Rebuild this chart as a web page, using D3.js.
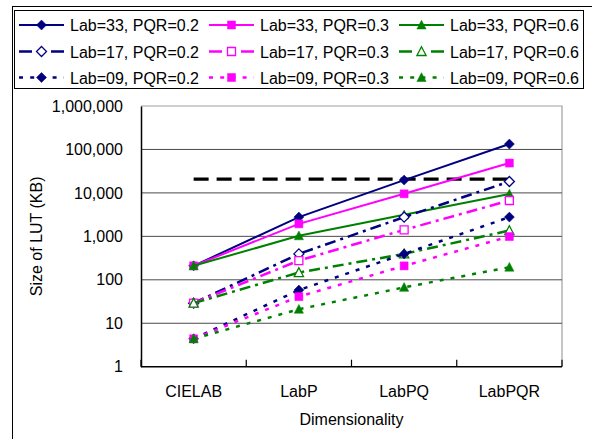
<!DOCTYPE html>
<html>
<head>
<meta charset="utf-8">
<script src="https://cdn.jsdelivr.net/npm/d3@7"></script>
<style>
  body { margin: 0; background: #fff; }
  text { font-family: "Liberation Sans", Arial, sans-serif; fill: #000; }
</style>
</head>
<body>
<svg id="chart" width="592" height="439"></svg>
<script>
// Categories on the x axis
const categories = ["CIELAB", "LabP", "LabPQ", "LabPQR"];

// Size of LUT (KB)
const lab33_pqr02 = [210, 2770, 19700, 133000];
const lab33_pqr03 = [210, 1940, 9530, 48600];
const lab33_pqr06 = [210, 1030, 3130, 9400];
const lab17_pqr02 = [29, 395, 2770, 18300];
const lab17_pqr03 = [29, 277, 1410, 6680];
const lab17_pqr06 = [29, 147, 395, 1360];
const lab09_pqr02 = [4.4, 58, 395, 2770];
const lab09_pqr03 = [4.4, 41, 209, 990];
const lab09_pqr06 = [4.4, 21, 67, 195];

// horizontal limit line (black dashes)
const limitValue = 20800;

const yTicks = [1, 10, 100, 1000, 10000, 100000, 1000000];

const series = [
  { name: "Lab=33, PQR=0.2", values: lab33_pqr02, color: "#000080", style: "solid", marker: "diamond", open: false },
  { name: "Lab=33, PQR=0.3", values: lab33_pqr03, color: "#ff00ff", style: "solid", marker: "square", open: false },
  { name: "Lab=33, PQR=0.6", values: lab33_pqr06, color: "#008000", style: "solid", marker: "triangle", open: false },
  { name: "Lab=17, PQR=0.2", values: lab17_pqr02, color: "#000080", style: "dashdot", marker: "diamond", open: true },
  { name: "Lab=17, PQR=0.3", values: lab17_pqr03, color: "#ff00ff", style: "dashdot", marker: "square", open: true },
  { name: "Lab=17, PQR=0.6", values: lab17_pqr06, color: "#008000", style: "dashdot", marker: "triangle", open: true },
  { name: "Lab=09, PQR=0.2", values: lab09_pqr02, color: "#000080", style: "dot", marker: "diamond", open: false },
  { name: "Lab=09, PQR=0.3", values: lab09_pqr03, color: "#ff00ff", style: "dot", marker: "square", open: false },
  { name: "Lab=09, PQR=0.6", values: lab09_pqr06, color: "#008000", style: "dot", marker: "triangle", open: false },
];

const dashes = { solid: null, dashdot: "11,5,3,5", dot: "4,7" };
const widths = { solid: 2, dashdot: 2.5, dot: 2.5 };

const svg = d3.select("#chart");

// plot area
const plot = { left: 141, right: 562, top: 106, bottom: 366.7 };

const x = d3
  .scalePoint()
  .domain(categories)
  .range([plot.left, plot.right])
  .padding(0.5);

const y = d3
  .scaleLog()
  .domain([1, 1000000])
  .range([plot.bottom, plot.top]);

// marker shapes
function markerPath(type) {
  if (type === "diamond") return "M0,-5L5,0L0,5L-5,0Z";
  if (type === "square") return "M-4,-4H4V4H-4Z";
  return "M0,-4.8L4.6,4L-4.6,4Z";
}

// outer chart frame (runs past the right and bottom edge)
svg
  .append("rect")
  .attr("x", 12.5)
  .attr("y", 6.5)
  .attr("width", 600)
  .attr("height", 450)
  .attr("fill", "none")
  .attr("stroke", "#000")
  .attr("stroke-width", 1);

// plot area frame: top and right are grey
svg
  .append("path")
  .attr("d", `M${plot.left},${plot.top}H${plot.right}V${plot.bottom}`)
  .attr("fill", "none")
  .attr("stroke", "#a0a0a0")
  .attr("stroke-width", 1.2);

// gridlines
svg
  .append("g")
  .selectAll("line")
  .data(yTicks.slice(1, -1))
  .join("line")
  .attr("x1", plot.left)
  .attr("x2", plot.right)
  .attr("y1", (d) => y(d))
  .attr("y2", (d) => y(d))
  .attr("stroke", "#4a4a4a")
  .attr("stroke-width", 1);

// y axis
const yAxis = svg
  .append("g")
  .attr("transform", `translate(${plot.left},0)`)
  .call(d3.axisLeft(y).tickValues(yTicks).tickFormat(d3.format(",")).tickSize(0).tickPadding(18));
yAxis.select(".domain").attr("stroke", "#000").attr("stroke-width", 1.5);
yAxis.selectAll("text").style("font-size", "16px").style("font-family", "'Liberation Sans', Arial, sans-serif");

// x axis: ticks between categories, pointing up into the plot
const step = x.step();
const xTickPos = d3.range(categories.length + 1).map((i) => plot.left + i * step);
svg
  .append("line")
  .attr("x1", plot.left)
  .attr("x2", plot.right)
  .attr("y1", plot.bottom)
  .attr("y2", plot.bottom)
  .attr("stroke", "#000")
  .attr("stroke-width", 1.5);
svg
  .append("g")
  .selectAll("line")
  .data(xTickPos)
  .join("line")
  .attr("x1", (d) => d)
  .attr("x2", (d) => d)
  .attr("y1", plot.bottom)
  .attr("y2", plot.bottom - 7)
  .attr("stroke", "#000")
  .attr("stroke-width", 1.2);

svg
  .append("g")
  .selectAll("text")
  .data(categories)
  .join("text")
  .attr("x", (d) => x(d))
  .attr("y", 397)
  .attr("text-anchor", "middle")
  .style("font-size", "16px")
  .text((d) => d);

// axis titles
svg
  .append("text")
  .attr("x", (plot.left + plot.right) / 2)
  .attr("y", 425)
  .attr("text-anchor", "middle")
  .style("font-size", "16px")
  .text("Dimensionality");

svg
  .append("text")
  .attr("transform", `translate(42,${(plot.top + plot.bottom) / 2}) rotate(-90)`)
  .attr("text-anchor", "middle")
  .style("font-size", "16px")
  .text("Size of LUT (KB)");

// limit line
svg
  .append("line")
  .attr("x1", x(categories[0]))
  .attr("x2", x(categories[categories.length - 1]) + 3)
  .attr("y1", y(limitValue))
  .attr("y2", y(limitValue))
  .attr("stroke", "#000")
  .attr("stroke-width", 3.2)
  .attr("stroke-dasharray", "15,8");

// series lines
const line = d3
  .line()
  .x((d, i) => x(categories[i]))
  .y((d) => y(d));

const seriesG = svg.append("g").selectAll("g").data(series).join("g");

seriesG
  .append("path")
  .attr("d", (d) => line(d.values))
  .attr("fill", "none")
  .attr("stroke", (d) => d.color)
  .attr("stroke-width", (d) => widths[d.style])
  .attr("stroke-dasharray", (d) => dashes[d.style]);

seriesG
  .selectAll("path.mark")
  .data((d) => d.values.map((v, i) => ({ s: d, v, i })))
  .join("path")
  .attr("class", "mark")
  .attr("transform", (d) => `translate(${x(categories[d.i])},${y(d.v)})`)
  .attr("d", (d) => markerPath(d.s.marker))
  .attr("fill", (d) => (d.s.open ? "#fff" : d.s.color))
  .attr("stroke", (d) => d.s.color)
  .attr("stroke-width", (d) => (d.s.open ? 1.3 : 0.5));

// legend
svg
  .append("rect")
  .attr("x", 14.5)
  .attr("y", 10.5)
  .attr("width", 569)
  .attr("height", 78)
  .attr("fill", "#fff")
  .attr("stroke", "#000")
  .attr("stroke-width", 1);

const colX = [19, 209, 399];
const rowY = [25, 51.5, 77.5];

const legendItem = svg
  .append("g")
  .selectAll("g")
  .data(series)
  .join("g")
  .attr("transform", (d, i) => `translate(${colX[i % 3]},${rowY[Math.floor(i / 3)]})`);

legendItem
  .append("line")
  .attr("x1", 0)
  .attr("x2", 45)
  .attr("stroke", (d) => d.color)
  .attr("stroke-width", (d) => widths[d.style])
  .attr("stroke-dasharray", (d) => (d.style === "dashdot" ? "13,19" : d.style === "dot" ? "4,7.2" : null));

legendItem
  .append("path")
  .attr("transform", "translate(22.5,0)")
  .attr("d", (d) => markerPath(d.marker))
  .attr("fill", (d) => (d.open ? "#fff" : d.color))
  .attr("stroke", (d) => d.color)
  .attr("stroke-width", (d) => (d.open ? 1.3 : 0.5));

legendItem
  .append("text")
  .attr("x", 51)
  .attr("y", 6)
  .style("font-size", "16px")
  .text((d) => d.name);
</script>
</body>
</html>
